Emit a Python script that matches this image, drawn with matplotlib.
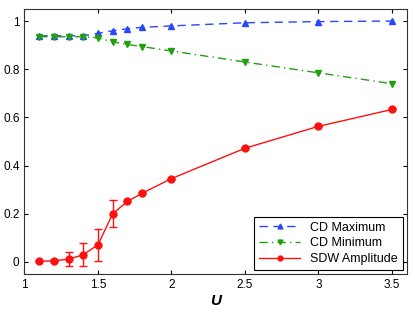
import matplotlib.pyplot as plt
import numpy as np

u = [1.1, 1.2, 1.3, 1.4, 1.5, 1.6, 1.7, 1.8, 2.0, 2.5, 3.0, 3.5]
cd_max = [0.939, 0.939, 0.939, 0.939, 0.949, 0.960, 0.968, 0.974, 0.980, 0.993, 0.998, 1.0]
cd_min = [0.935, 0.935, 0.935, 0.935, 0.930, 0.914, 0.903, 0.894, 0.876, 0.830, 0.785, 0.740]
sdw = [0.002, 0.005, 0.011, 0.030, 0.071, 0.200, 0.251, 0.285, 0.346, 0.472, 0.563, 0.633]
sdw_err = [0.0, 0.0, 0.030, 0.047, 0.067, 0.055, 0.0, 0.0, 0.0, 0.0, 0.0, 0.0]

plt.rcParams['font.family'] = ['Liberation Sans', 'DejaVu Sans']

fig = plt.figure(figsize=(4.15, 3.12), dpi=100)
ax = fig.add_axes([0.059, 0.122, 0.921, 0.849])

blue = '#2a45ff'
green = '#22a010'
red = '#ff1010'

ax.plot(u, cd_max, color=blue, linestyle=(0, (6, 4)), marker='^', ms=5, lw=1.0, label='CD Maximum')
ax.plot(u, cd_min, color=green, linestyle=(0, (6, 3, 1, 3)), marker='v', ms=5, lw=1.0, label='CD Minimum')
# error bars only, the line itself is drawn below so the legend shows no bar
ax.errorbar(u, sdw, yerr=sdw_err, fmt='none', ecolor=red, capsize=3, elinewidth=1.0)
ax.plot(u, sdw, color=red, linestyle='-', marker='o', ms=5, lw=1.0, label='SDW Amplitude')

ax.set_xlim(1, 3.6)
ax.set_ylim(-0.05, 1.05)
ax.set_xticks([1, 1.5, 2, 2.5, 3, 3.5])
ax.set_xticklabels(['1', '1.5', '2', '2.5', '3', '3.5'])
ax.set_yticks([0, 0.2, 0.4, 0.6, 0.8, 1])
ax.set_yticklabels(['0', '0.2', '0.4', '0.6', '0.8', '1'])
ax.tick_params(direction='in', top=True, right=True, labelsize=8.5, length=3)
for sp in ax.spines.values():
    sp.set_color('#333333')
ax.set_xlabel('U', fontsize=11, fontweight='bold', fontstyle='italic', labelpad=2)

leg = ax.legend(loc='lower right', fontsize=9, fancybox=False, edgecolor='black',
                framealpha=1, borderaxespad=0.3, handlelength=3.3, labelspacing=0.3,
                markerscale=0.7)
leg.get_frame().set_linewidth(0.8)

fig.savefig('out.png', dpi=100)
